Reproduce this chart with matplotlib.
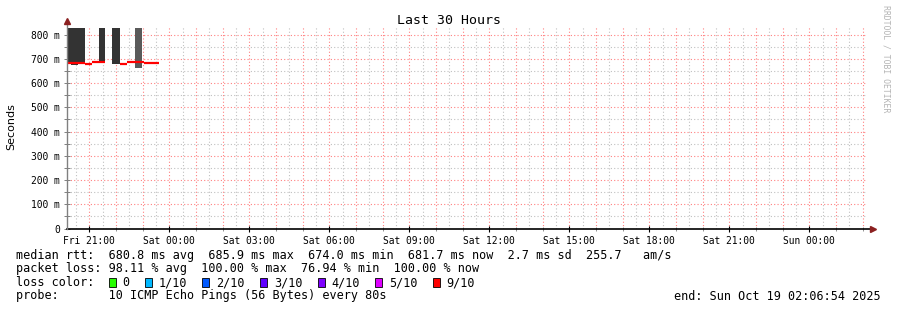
import numpy as np
import matplotlib
matplotlib.use("Agg")
import matplotlib.pyplot as plt
from matplotlib.patches import Rectangle

W, H = 897, 310
MONO = "DejaVu Sans Mono"

# time axis: hours after Fri 20:00
t_left = 0.164
t_right = t_left + 30
tick_hours = [1, 4, 7, 10, 13, 16, 19, 22, 25, 28]
tick_labels = ["Fri 21:00", "Sat 00:00", "Sat 03:00", "Sat 06:00", "Sat 09:00",
               "Sat 12:00", "Sat 15:00", "Sat 18:00", "Sat 21:00", "Sun 00:00"]

# smoke (min/max of pings), milliseconds
smoke_start = [0.164, 0.325, 0.577, 1.353, 1.851, 2.725]
smoke_end = [0.325, 0.577, 0.828, 1.600, 2.163, 2.976]
smoke_low = [686, 674, 686, 688, 679, 662]
smoke_high = [827, 827, 827, 827, 827, 827]
smoke_shade = ["#333333", "#333333", "#333333", "#333333", "#333333", "#5a5a5a"]

# median rtt (ms), coloured by loss (all 9/10 here)
med_start = [0.164, 0.828, 1.102, 2.163, 2.414, 3.040]
med_end = [0.828, 1.102, 1.600, 2.414, 3.040, 3.603]
med_val = [683, 679, 686, 679, 686, 684]

loss_labels = ["0", "1/10", "2/10", "3/10", "4/10", "5/10", "9/10"]
loss_colors = ["#26ff00", "#00b8ff", "#0059ff", "#5e00ff", "#7e00ff", "#dd00ff", "#ff0000"]

fig = plt.figure(figsize=(W / 100, H / 100), dpi=100)
fig.patch.set_facecolor("white")
ax = fig.add_axes([67 / W, (H - 228.6) / H, 800 / W, 201.3 / H])
ax.set_xlim(t_left, t_right)
ax.set_ylim(0, 830)

# grid
for h in np.arange(0.5, 31, 0.5):
    if h < t_left or h > t_right:
        continue
    if float(h).is_integer():
        ax.axvline(h, color="#ff8080", lw=0.8, ls=(0, (1, 2)), zorder=1)
    else:
        ax.axvline(h, color="#c0c0c0", lw=0.8, ls=(0, (1, 2)), zorder=1)
for v in range(50, 830, 50):
    if v % 100 == 0:
        ax.axhline(v, color="#ff8080", lw=0.8, ls=(0, (1, 2)), zorder=1)
    else:
        ax.axhline(v, color="#c0c0c0", lw=0.8, ls=(0, (1, 2)), zorder=1)

# smoke
for s, e, lo, hi, c in zip(smoke_start, smoke_end, smoke_low, smoke_high, smoke_shade):
    ax.bar(s, hi - lo, width=e - s, bottom=lo, align="edge", color=c, lw=0, zorder=2)

# median line
ax.hlines(med_val, med_start, med_end, colors=loss_colors[-1], lw=1.6, zorder=3)

# axes
for sp in ax.spines.values():
    sp.set_visible(False)
ax.plot([0, 1.008], [0, 0], transform=ax.transAxes, color="black", lw=1.2,
        clip_on=False, zorder=4)
ax.plot([1.008], [0], transform=ax.transAxes, marker=">", ms=4, color="#8b2020",
        clip_on=False, zorder=5)
ax.plot([0, 0], [0, 1.025], transform=ax.transAxes, color="#808080", lw=1,
        clip_on=False, zorder=4)
ax.plot([0], [1.03], transform=ax.transAxes, marker="^", ms=4, color="#8b2020",
        clip_on=False, zorder=5)

ax.set_xticks(tick_hours)
ax.set_xticklabels(tick_labels, fontfamily=MONO, fontsize=6.9)
ax.set_xticks(np.arange(1, 31, 1), minor=True)
ax.tick_params(axis="x", which="major", direction="inout", length=4, width=0.8,
               pad=3, color="black")
ax.tick_params(axis="x", which="minor", direction="inout", length=3, width=0.6,
               color="#808080")

ax.set_yticks(range(0, 801, 100))
ax.set_yticklabels(["0"] + [f"{v} m" for v in range(100, 801, 100)],
                   fontfamily=MONO, fontsize=6.9)
ax.set_yticks(range(50, 830, 100), minor=True)
ax.tick_params(axis="y", which="both", direction="inout", length=4, width=0.7,
               pad=3, color="#808080")

fig.text(11 / W, 1 - 127 / H, "Seconds", rotation=90, ha="center", va="center",
         fontsize=8)
fig.text(0.5, 1 - 20 / H, "Last 30 Hours", ha="center", va="center",
         fontfamily=MONO, fontsize=9.5)
fig.text(886 / W, 1 - 59 / H, "RRDTOOL / TOBI OETIKER", rotation=270,
         ha="center", va="center", fontfamily=MONO, fontsize=5.9, color="#b4b4b4")

rows = [255, 268.3, 282.7, 296]
fig.text(16 / W, 1 - rows[0] / H,
         "median rtt:  680.8 ms avg  685.9 ms max  674.0 ms min  681.7 ms now"
         "  2.7 ms sd  255.7   am/s", va="center", fontfamily=MONO, fontsize=8.45)
fig.text(16 / W, 1 - rows[1] / H,
         "packet loss: 98.11 % avg  100.00 % max  76.94 % min  100.00 % now",
         va="center", fontfamily=MONO, fontsize=8.45)
fig.text(16 / W, 1 - rows[2] / H, "loss color:", va="center",
         fontfamily=MONO, fontsize=8.45)
bx = 108.7
for lab, col in zip(loss_labels, loss_colors):
    fig.add_artist(Rectangle((bx / W, 1 - 286.8 / H), 7 / W, 8.4 / H,
                             transform=fig.transFigure, facecolor=col,
                             edgecolor="black", lw=0.6))
    fig.text((bx + 14) / W, 1 - rows[2] / H, lab, va="center",
             fontfamily=MONO, fontsize=8.45)
    bx += (len(lab) + 4) * 7.2
fig.text(16 / W, 1 - rows[3] / H,
         "probe:       10 ICMP Echo Pings (56 Bytes) every 80s",
         va="center", fontfamily=MONO, fontsize=8.45)
fig.text(881 / W, 1 - rows[3] / H, "end: Sun Oct 19 02:06:54 2025",
         ha="right", va="center", fontfamily=MONO, fontsize=8.45)

fig.savefig("out.png", dpi=100, facecolor="white")
